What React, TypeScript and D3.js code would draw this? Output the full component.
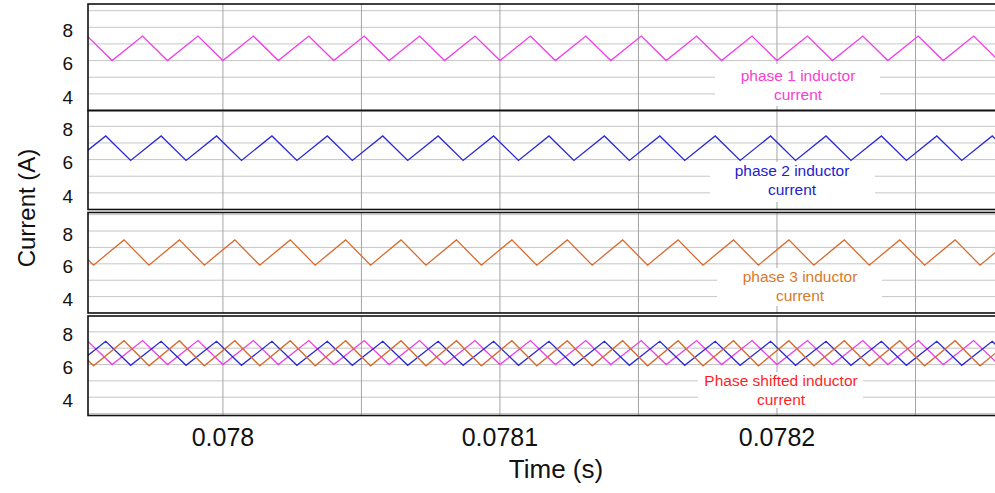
import * as d3 from "d3";

// time in microseconds, current in amperes (triangle vertices)
const phase1: [number, number][] = [
  [77951, 7.47], [77960, 6.0], [77971, 7.47], [77980, 6.0], [77991, 7.47], [78000, 6.0],
  [78011, 7.47], [78020, 6.0], [78031, 7.47], [78040, 6.0], [78051, 7.47], [78060, 6.0],
  [78071, 7.47], [78080, 6.0], [78091, 7.47], [78100, 6.0], [78111, 7.47], [78120, 6.0],
  [78131, 7.47], [78140, 6.0], [78151, 7.47], [78160, 6.0], [78171, 7.47], [78180, 6.0],
  [78191, 7.47], [78200, 6.0], [78211, 7.47], [78220, 6.0], [78231, 7.47], [78240, 6.0],
  [78251, 7.47], [78260, 6.0], [78271, 7.47], [78280, 6.0],
];

const phase2: [number, number][] = [
  [77946.7, 5.95], [77957.7, 7.42], [77966.7, 5.95], [77977.7, 7.42], [77986.7, 5.95],
  [77997.7, 7.42], [78006.7, 5.95], [78017.7, 7.42], [78026.7, 5.95], [78037.7, 7.42],
  [78046.7, 5.95], [78057.7, 7.42], [78066.7, 5.95], [78077.7, 7.42], [78086.7, 5.95],
  [78097.7, 7.42], [78106.7, 5.95], [78117.7, 7.42], [78126.7, 5.95], [78137.7, 7.42],
  [78146.7, 5.95], [78157.7, 7.42], [78166.7, 5.95], [78177.7, 7.42], [78186.7, 5.95],
  [78197.7, 7.42], [78206.7, 5.95], [78217.7, 7.42], [78226.7, 5.95], [78237.7, 7.42],
  [78246.7, 5.95], [78257.7, 7.42], [78266.7, 5.95], [78277.7, 7.42], [78286.7, 5.95],
];

const phase3: [number, number][] = [
  [77944.3, 7.46], [77953.3, 5.92], [77964.3, 7.46], [77973.3, 5.92], [77984.3, 7.46],
  [77993.3, 5.92], [78004.3, 7.46], [78013.3, 5.92], [78024.3, 7.46], [78033.3, 5.92],
  [78044.3, 7.46], [78053.3, 5.92], [78064.3, 7.46], [78073.3, 5.92], [78084.3, 7.46],
  [78093.3, 5.92], [78104.3, 7.46], [78113.3, 5.92], [78124.3, 7.46], [78133.3, 5.92],
  [78144.3, 7.46], [78153.3, 5.92], [78164.3, 7.46], [78173.3, 5.92], [78184.3, 7.46],
  [78193.3, 5.92], [78204.3, 7.46], [78213.3, 5.92], [78224.3, 7.46], [78233.3, 5.92],
  [78244.3, 7.46], [78253.3, 5.92], [78264.3, 7.46], [78273.3, 5.92], [78284.3, 7.46],
];

const xTickValues = [78000, 78100, 78200];
const xTickLabels = ["0.078", "0.0781", "0.0782"];
const xGridValues = [78000, 78050, 78100, 78150, 78200, 78250];
const yTickValues = [8, 6, 4];

const panelLabels = [
  ["phase 1 inductor", "current"],
  ["phase 2 inductor", "current"],
  ["phase 3 inductor", "current"],
  ["Phase shifted inductor", "current"],
];

const seriesColors = ["#f23ee8", "#2a2ad8", "#d86a2c"];
const labelColors = ["#f63fd0", "#2222cc", "#d87a28", "#ff1f1f"];

const FONT = "'Liberation Sans', Arial, sans-serif";

// layout of the four stacked panels
const panels = [
  { top: 4, bottom: 110.5, yMin: 3.0, yMax: 9.4, series: [0], box: [715, 880, 64, 106], textX: 798, textY: 76 },
  { top: 110.5, bottom: 209.5, yMin: 3.0, yMax: 8.95, series: [1], box: [710, 875, 162, 202], textX: 792, textY: 171 },
  { top: 212.5, bottom: 313, yMin: 3.0, yMax: 9.13, series: [2], box: [717, 882, 268, 306], textX: 800, textY: 277 },
  { top: 316, bottom: 415.5, yMin: 2.88, yMax: 8.97, series: [0, 1, 2], box: [698, 863, 372, 408], textX: 781, textY: 381 },
];

const allSeries = [phase1, phase2, phase3];

export default function App() {
  const left = 88;
  const right = 995;
  const x = d3.scaleLinear().domain([77951.3, 78278.7]).range([left, right]);

  return (
    <svg
      width={995}
      height={493}
      style={{ position: "absolute", left: 0, top: 0, background: "#fff" }}
    >
      <rect x={0} y={0} width={995} height={493} fill="#fff" />
      {panels.map((p, i) => {
        const y = d3.scaleLinear().domain([p.yMin, p.yMax]).range([p.bottom, p.top]);
        const line = d3
          .line<[number, number]>()
          .x((d) => x(d[0]))
          .y((d) => y(d[1]));
        const hGrid = d3.range(Math.ceil(p.yMin), Math.floor(p.yMax) + 1);
        const [bx0, bx1, by0, by1] = p.box;
        return (
          <g key={i}>
            <defs>
              <clipPath id={`clip${i}`}>
                <rect x={left} y={p.top} width={right - left + 10} height={p.bottom - p.top} />
              </clipPath>
            </defs>
            <g clipPath={`url(#clip${i})`}>
              {hGrid.map((v) => (
                <line key={v} x1={left} x2={right + 10} y1={y(v)} y2={y(v)} stroke="#c6c6c6" strokeWidth={1} />
              ))}
              {xGridValues.map((t) => (
                <line key={t} x1={x(t)} x2={x(t)} y1={p.top} y2={p.bottom} stroke="#a4a4a4" strokeWidth={1} />
              ))}
              {p.series.map((s) => (
                <path
                  key={s}
                  d={line(allSeries[s]) ?? ""}
                  fill="none"
                  stroke={seriesColors[s]}
                  strokeWidth={1.3}
                  strokeLinejoin="miter"
                />
              ))}
              <rect x={bx0} y={by0} width={bx1 - bx0} height={by1 - by0} fill="#fff" />
            </g>
            <rect
              x={left}
              y={p.top}
              width={right - left + 20}
              height={p.bottom - p.top}
              fill="none"
              stroke="#111"
              strokeWidth={1.6}
            />
            {yTickValues.map((v) => (
              <text
                key={v}
                x={73}
                y={y(v) + 3}
                dy="0.35em"
                textAnchor="end"
                fontFamily={FONT}
                fontSize={19}
                fill="#111"
              >
                {v}
              </text>
            ))}
            {panelLabels[i].map((txt, j) => (
              <text
                key={j}
                x={p.textX}
                y={p.textY + j * 19}
                dy="0.35em"
                textAnchor="middle"
                fontFamily={FONT}
                fontSize={15.5}
                fill={labelColors[i]}
              >
                {txt}
              </text>
            ))}
          </g>
        );
      })}
      {xTickValues.map((t, i) => (
        <text
          key={t}
          x={x(t)}
          y={437}
          dy="0.35em"
          textAnchor="middle"
          fontFamily={FONT}
          fontSize={25}
          fill="#111"
        >
          {xTickLabels[i]}
        </text>
      ))}
      <text
        x={556}
        y={469}
        dy="0.35em"
        textAnchor="middle"
        fontFamily={FONT}
        fontSize={26}
        fill="#111"
      >
        Time (s)
      </text>
      <text
        transform="translate(27,208) rotate(-90)"
        dy="0.35em"
        textAnchor="middle"
        fontFamily={FONT}
        fontSize={24}
        fill="#111"
      >
        Current (A)
      </text>
    </svg>
  );
}
